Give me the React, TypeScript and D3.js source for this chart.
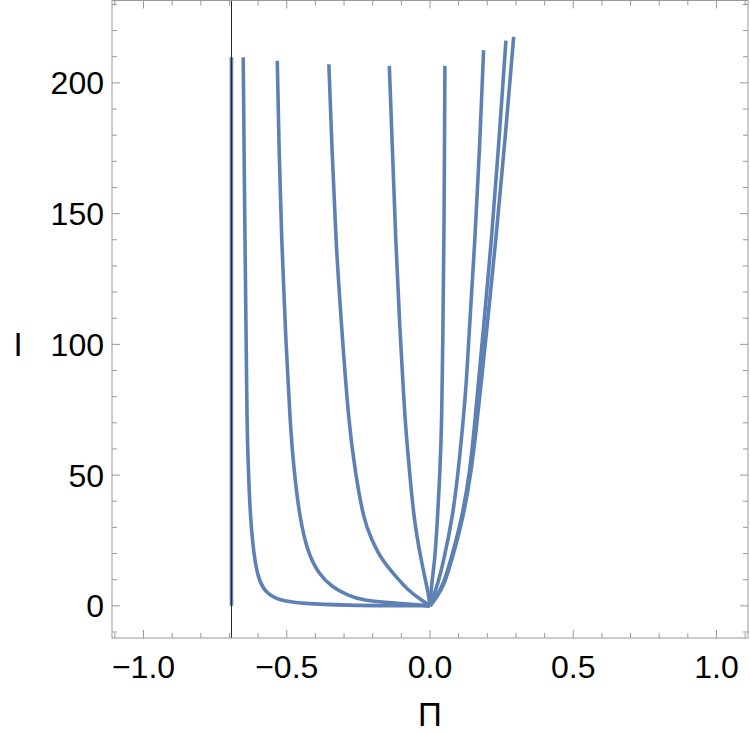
import React from "react";
import * as d3 from "d3";

// ---- data ----
const asymptotePi = -0.693;
const asymptoteLine: [number, number][] = [
  [-0.693, 0],
  [-0.693, 209.8],
];
const curve1: [number, number][] = [
  [0, 0], [-0.15, 0.06], [-0.279, 0.2], [-0.447, 0.8], [-0.531, 2.2], [-0.572, 5.0],
  [-0.593, 8.8], [-0.611, 15.7], [-0.627, 32.8], [-0.634, 51.9], [-0.639, 69.2],
  [-0.642, 105.5], [-0.646, 139.9], [-0.652, 209.8],
];
const curve2: [number, number][] = [
  [0, 0], [-0.122, 1.03], [-0.237, 2.1], [-0.286, 4.0], [-0.342, 7.1], [-0.391, 12.6],
  [-0.426, 20.3], [-0.454, 32.9], [-0.475, 52.0], [-0.488, 69.2], [-0.505, 105.5],
  [-0.518, 139.9], [-0.527, 174.2], [-0.533, 208.4],
];
const curve3: [number, number][] = [
  [0, 0], [-0.031, 2.3], [-0.077, 6.0], [-0.115, 10.7], [-0.169, 17.6], [-0.203, 25.2],
  [-0.232, 32.9], [-0.262, 52.0], [-0.283, 69.2], [-0.308, 105.5], [-0.329, 139.9],
  [-0.342, 174.2], [-0.353, 207.1],
];
const curve4: [number, number][] = [
  [0, 0], [-0.005, 4.2], [-0.016, 9.9], [-0.031, 17.6], [-0.056, 32.9], [-0.072, 52.0],
  [-0.086, 69.2], [-0.095, 86.4], [-0.105, 105.5], [-0.12, 139.9], [-0.131, 174.2],
  [-0.142, 206.5],
];
const curve5: [number, number][] = [
  [0, 0], [0.007, 9.9], [0.017, 17.6], [0.026, 32.9], [0.035, 52.0], [0.041, 69.2],
  [0.045, 105.5], [0.049, 139.9], [0.052, 206.5],
];
const curve6: [number, number][] = [
  [0, 0], [0.0115, 3.4], [0.028, 8.8], [0.047, 16.8], [0.08, 34.4], [0.099, 52.0],
  [0.113, 67.3], [0.128, 86.4], [0.137, 105.5], [0.157, 139.9], [0.173, 174.2],
  [0.187, 212.5],
];
const curve7: [number, number][] = [
  [0, 0], [0.0227, 3.4], [0.0454, 8.0], [0.0698, 16.4], [0.113, 34.0], [0.14, 52.0],
  [0.154, 67.3], [0.17, 86.4], [0.186, 105.5], [0.215, 139.9], [0.241, 178.1],
  [0.265, 216.2],
];
const curve8: [number, number][] = [
  [0, 0], [0.0244, 3.4], [0.0489, 8.0], [0.0733, 16.4], [0.117, 34.0], [0.145, 52.0],
  [0.161, 67.3], [0.18, 86.4], [0.198, 105.5], [0.23, 139.9], [0.262, 178.1],
  [0.292, 217.6],
];
const curves = [curve1, curve2, curve3, curve4, curve5, curve6, curve7, curve8];

const xMajorTicks = [-1, -0.5, 0, 0.5, 1];
const xTickLabels = ["\u22121.0", "\u22120.5", "0.0", "0.5", "1.0"];
const yMajorTicks = [0, 50, 100, 150, 200];
const yTickLabels = ["0", "50", "100", "150", "200"];
const xLabel = "\u03A0";
const yLabel = "I";

// ---- layout ----
const W = 750;
const H = 734;
const left = 112;
const right = 748;
const top = 0.5;
const bottom = 638;
const xDomain: [number, number] = [-1.11, 1.11];
const yDomain: [number, number] = [-12.3, 231.5];

const BLUE = "#5E81B5";
const FRAME = "#999999";
const FONT = "'Liberation Sans', Arial, Helvetica, sans-serif";

export default function App() {
  const x = d3.scaleLinear().domain(xDomain).range([left, right]);
  const y = d3.scaleLinear().domain(yDomain).range([bottom, top]);
  const line = d3
    .line<[number, number]>()
    .x((d) => x(d[0]))
    .y((d) => y(d[1]))
    .curve(d3.curveBasis);

  const xMinor = d3.range(-11, 12).map((i) => i / 10).filter((v) => !xMajorTicks.some((m) => Math.abs(m - v) < 1e-9));
  const yMinor = d3.range(-10, 240, 10).filter((v) => v % 50 !== 0 && v <= yDomain[1]);

  const major = 8;
  const minor = 5;

  return (
    <svg
      width={W}
      height={H}
      style={{ position: "absolute", left: 0, top: 0, background: "#fff" }}
      fontFamily={FONT}
    >
      <rect x={0} y={0} width={W} height={H} fill="#fff" />
      <defs>
        <clipPath id="plotclip">
          <rect x={left} y={top} width={right - left} height={bottom - top} />
        </clipPath>
      </defs>

      {/* curves */}
      <g clipPath="url(#plotclip)" fill="none" stroke={BLUE} strokeWidth={3.6} strokeLinejoin="round" strokeLinecap="butt">
        <path d={d3.line<[number, number]>().x((d) => x(d[0])).y((d) => y(d[1]))(asymptoteLine) || ""} />
        {curves.map((c, i) => (
          <path key={i} d={line(c) || ""} />
        ))}
      </g>

      {/* vertical reference line */}
      <line
        x1={x(asymptotePi)}
        x2={x(asymptotePi)}
        y1={top}
        y2={bottom}
        stroke="#222"
        strokeWidth={1}
      />

      {/* frame */}
      <rect x={left} y={top} width={right - left} height={bottom - top} fill="none" stroke={FRAME} strokeWidth={1} />

      {/* ticks */}
      <g stroke={FRAME} strokeWidth={1}>
        {xMajorTicks.map((v) => (
          <g key={"xM" + v}>
            <line x1={x(v)} x2={x(v)} y1={bottom} y2={bottom - major} />
            <line x1={x(v)} x2={x(v)} y1={top} y2={top + major} />
          </g>
        ))}
        {xMinor.map((v) => (
          <g key={"xm" + v}>
            <line x1={x(v)} x2={x(v)} y1={bottom} y2={bottom - minor} />
            <line x1={x(v)} x2={x(v)} y1={top} y2={top + minor} />
          </g>
        ))}
        {yMajorTicks.map((v) => (
          <g key={"yM" + v}>
            <line x1={left} x2={left + major} y1={y(v)} y2={y(v)} />
            <line x1={right} x2={right - major} y1={y(v)} y2={y(v)} />
          </g>
        ))}
        {yMinor.map((v) => (
          <g key={"ym" + v}>
            <line x1={left} x2={left + minor} y1={y(v)} y2={y(v)} />
            <line x1={right} x2={right - minor} y1={y(v)} y2={y(v)} />
          </g>
        ))}
      </g>

      {/* tick labels */}
      <g fontSize={32} fill="#000">
        {xMajorTicks.map((v, i) => (
          <text key={"xl" + v} x={x(v)} y={678} textAnchor="middle">
            {xTickLabels[i]}
          </text>
        ))}
        {yMajorTicks.map((v, i) => (
          <text key={"yl" + v} x={left - 8} y={y(v)} dy="0.36em" textAnchor="end">
            {yTickLabels[i]}
          </text>
        ))}
      </g>

      {/* axis labels */}
      <text x={(left + right) / 2} y={726} textAnchor="middle" fontSize={33} fill="#000">
        {xLabel}
      </text>
      <text x={18} y={344} dy="0.36em" textAnchor="middle" fontSize={33} fill="#000">
        {yLabel}
      </text>
    </svg>
  );
}
